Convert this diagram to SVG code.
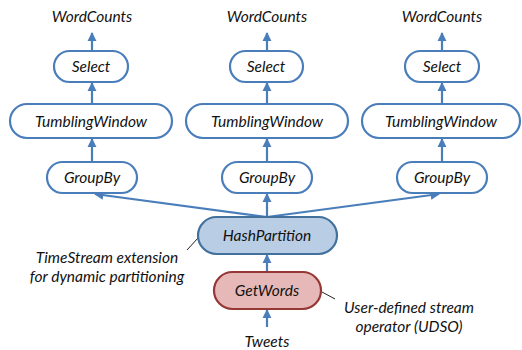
<svg xmlns="http://www.w3.org/2000/svg" width="522" height="350" viewBox="0 0 522 350">
<defs>
<marker id="ah" viewBox="0 0 10 10" refX="9" refY="5" markerWidth="4.2" markerHeight="4.2" orient="auto" markerUnits="strokeWidth">
<path d="M0,0 L10,5 L0,10 z" fill="#4A7EBB"/>
</marker>
<style>
.n{fill:#fff;stroke:#4A7EBB;stroke-width:2.2}
.t{font-family:Lato,"Open Sans","Liberation Sans",sans-serif;font-style:italic;font-size:15.5px;fill:#111;text-anchor:middle}
.c{stroke:#4A7EBB;stroke-width:2.2;fill:none;marker-end:url(#ah)}
.a{stroke:#222;stroke-width:1;fill:none}
</style>
</defs>
<rect width="522" height="350" fill="#fff"/>
<g id="connectors">
<line class="c" x1="92" y1="51" x2="92" y2="33"/>
<line class="c" x1="92" y1="104" x2="92" y2="83"/>
<line class="c" x1="92" y1="162" x2="92" y2="139"/>
<line class="c" x1="267" y1="51" x2="267" y2="33"/>
<line class="c" x1="267" y1="104" x2="267" y2="83"/>
<line class="c" x1="267" y1="162" x2="267" y2="139"/>
<line class="c" x1="442" y1="51" x2="442" y2="33"/>
<line class="c" x1="442" y1="104" x2="442" y2="83"/>
<line class="c" x1="442" y1="162" x2="442" y2="139"/>
<line class="c" x1="267" y1="217" x2="95" y2="194"/>
<line class="c" x1="267" y1="217" x2="267" y2="194"/>
<line class="c" x1="267" y1="217" x2="439" y2="194"/>
<line class="c" x1="267" y1="272" x2="267" y2="255"/>
<line class="c" x1="267" y1="327" x2="267" y2="310"/>
<line class="a" x1="187" y1="250" x2="198" y2="238"/>
<line class="a" x1="322" y1="292" x2="335" y2="299"/>
</g>
<g id="col1">
<text class="t" x="92" y="22">WordCounts</text>
<g id="select1"><rect class="n" x="54" y="51" width="74" height="31" rx="15.5"/><text class="t" x="91" y="72">Select</text></g>
<g id="tw1"><rect class="n" x="10" y="104" width="162" height="34" rx="17"/><text class="t" x="91" y="126.5">TumblingWindow</text></g>
<g id="gb1"><rect class="n" x="47" y="162" width="90" height="31" rx="15.5"/><text class="t" x="92" y="183">GroupBy</text></g>
</g>
<g id="col2">
<text class="t" x="267" y="22">WordCounts</text>
<g id="select2"><rect class="n" x="230" y="51" width="73" height="31" rx="15.5"/><text class="t" x="266" y="72">Select</text></g>
<g id="tw2"><rect class="n" x="186" y="104" width="162" height="34" rx="17"/><text class="t" x="267" y="126.5">TumblingWindow</text></g>
<g id="gb2"><rect class="n" x="222" y="162" width="90" height="31" rx="15.5"/><text class="t" x="267" y="183">GroupBy</text></g>
</g>
<g id="col3">
<text class="t" x="442" y="22">WordCounts</text>
<g id="select3"><rect class="n" x="405" y="51" width="74" height="31" rx="15.5"/><text class="t" x="442" y="72">Select</text></g>
<g id="tw3"><rect class="n" x="362" y="104" width="158" height="34" rx="17"/><text class="t" x="441" y="126.5">TumblingWindow</text></g>
<g id="gb3"><rect class="n" x="397" y="162" width="90" height="31" rx="15.5"/><text class="t" x="442" y="183">GroupBy</text></g>
</g>
<g id="hashpartition"><rect x="198" y="217" width="139" height="37" rx="18.5" fill="#B9CDE5" stroke="#41719C" stroke-width="2.2"/><text class="t" x="267" y="241">HashPartition</text></g>
<g id="getwords"><rect x="214" y="272" width="107" height="37" rx="18.5" fill="#E6B9B8" stroke="#953735" stroke-width="2.2"/><text class="t" x="267" y="296">GetWords</text></g>
<text class="t" x="267" y="347">Tweets</text>
<text class="t" x="107" y="263">TimeStream extension</text>
<text class="t" x="107" y="282">for dynamic partitioning</text>
<text class="t" x="409" y="313">User-defined stream</text>
<text class="t" x="409" y="332">operator (UDSO)</text>
</svg>
